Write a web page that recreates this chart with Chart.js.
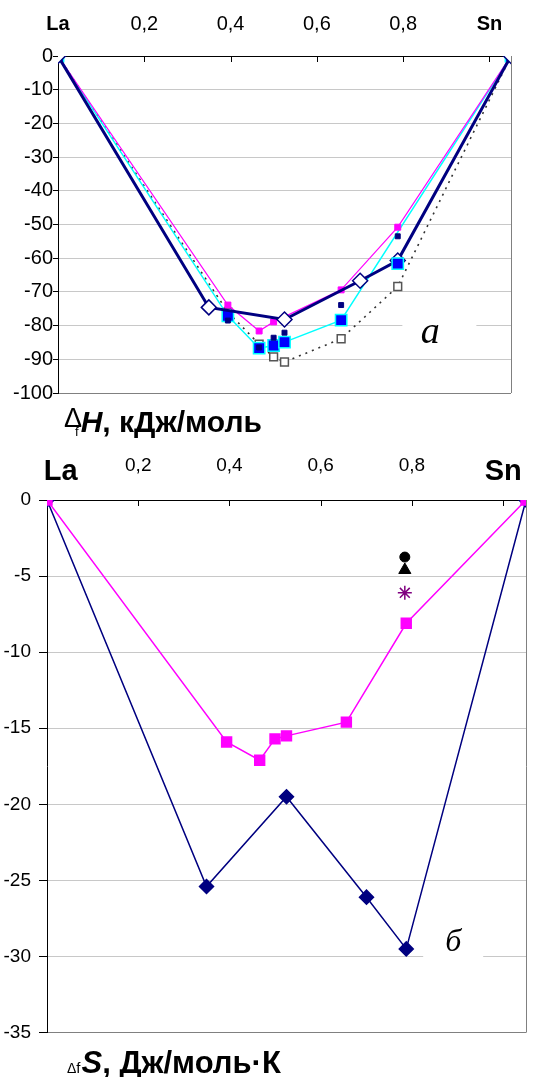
<!DOCTYPE html>
<html>
<head>
<meta charset="utf-8">
<title>La–Sn</title>
<script src="https://cdn.jsdelivr.net/npm/chart.js@4.4.0/dist/chart.umd.min.js"></script>
<style>
    html, body { margin: 0; padding: 0; background: #fff; }
    body { width: 545px; height: 1077px; position: relative; overflow: hidden;
           font-family: Arial, "Liberation Sans", sans-serif; color: #000; }
    .box { position: absolute; left: 0; width: 545px; }
    #enthalpyBox { top: 0; height: 405px; }
    #entropyBox { top: 430px; height: 622px; }
    .title { position: absolute; font-weight: bold; white-space: nowrap; line-height: 1; }
    #hTitle { left: 64px; top: 407px; font-size: 30px; }
    #sTitle { left: 67px; top: 1047px; font-size: 31px; }
    .dl { font-weight: normal; }
    #hTitle .dl { font-size: 27px; position: relative; top: -5px; }
    #hTitle .fs { font-size: 13px; font-weight: normal; margin-left: -7px; margin-right: 2px; position: relative; top: 4px; }
    #sTitle .dl { font-size: 14px; }
    #sTitle .fs { font-size: 15px; font-weight: normal; margin-right: 1px; }
</style>
</head>
<body>
<div class="box" id="enthalpyBox"><canvas id="enthalpyChart" width="545" height="405"></canvas></div>
<div class="box" id="entropyBox"><canvas id="entropyChart" width="545" height="622"></canvas></div>
<div class="title" id="hTitle"><span class="dl">Δ</span><span class="fs">f</span><i>H</i>, кДж/моль</div>
<div class="title" id="sTitle"><span class="dl">Δ</span><span class="fs">f</span><i>S</i>, Дж/моль·К</div>

<script>
// mole fraction of Sn, enthalpy of formation (kJ/mol)
const hCalcX = [0, 0.333, 0.5, 0.667, 0.75, 1];
const hCalcY = [0, -74.6, -78.2, -66.7, -60.7, 0];
const hMagentaX = [0, 0.375, 0.444, 0.476, 0.625, 0.75, 1];
const hMagentaY = [0, -73.9, -81.6, -78.9, -69.4, -50.8, 0];
const hCyanX = [0, 0.375, 0.444, 0.476, 0.5, 0.625, 1];
const hCyanY = [0, -77.1, -86.7, -85.9, -84.9, -78.4, 0];
const hBlueX = [0.75];
const hBlueY = [-61.6];
const hNavyX = [0.375, 0.444, 0.476, 0.5, 0.625, 0.75];
const hNavyY = [-78.5, -86.5, -83.6, -82.1, -73.9, -53.5];
const hDotX = [0, 0.375, 0.444, 0.476, 0.5, 0.625, 0.75, 1];
const hDotY = [0, -76, -85.5, -89.3, -90.8, -83.9, -68.4, 0];

// entropy of formation (J/mol·K)
const sCalcX = [0, 0.333, 0.5, 0.667, 0.75, 1];
const sCalcY = [0, -25.4, -19.5, -26.1, -29.5, 0];
const sMagentaX = [0, 0.375, 0.444, 0.476, 0.5, 0.625, 0.75, 1];
const sMagentaY = [0, -15.9, -17.1, -15.7, -15.5, -14.6, -8.1, 0];
const sCircle = [0.747, -3.75];
const sTriangle = [0.747, -4.6];
const sStar = [0.747, -6.1];

// composition axis ticks
const compTicks = [0, 0.2, 0.4, 0.6, 0.8, 1];

const FONT = 'Arial, "Liberation Sans", sans-serif';

const pts = (xs, ys) => xs.map((x, i) => ({ x: x, y: ys[i] }));

// the first tick may be nudged right, so anything below 0.1 is the La end
function compLabel(v) {
    if (v < 0.1) return 'La';
    if (Math.abs(v - 1) < 1e-9) return 'Sn';
    return (Math.round(v * 10) / 10).toFixed(1).replace('.', ',');
}

const isEdge = v => v < 0.1 || Math.abs(v - 1) < 1e-9;

// frame: right border, inner ticks on the top axis, panel letter
const framePlugin = {
    id: 'frame',
    beforeDatasetsDraw(chart, args, opts) {
        const ctx = chart.ctx;
        const a = chart.chartArea;
        const x = chart.scales.x.getPixelForValue(opts.letterX);
        const y = chart.scales.y.getPixelForValue(opts.letterY);
        ctx.save();
        ctx.fillStyle = '#fff';
        ctx.fillRect(x - opts.boxW / 2 + opts.boxDx, y - opts.boxH / 2, opts.boxW, opts.boxH);
        ctx.strokeStyle = '#808080';
        ctx.lineWidth = 1;
        ctx.beginPath();
        ctx.moveTo(a.right + 0.5, a.top);
        ctx.lineTo(a.right + 0.5, a.bottom);
        ctx.stroke();
        ctx.strokeStyle = '#000';
        ctx.beginPath();
        chart.scales.x2.ticks.forEach(t => {
            if (t.value < 0.1) return;
            const px = Math.round(chart.scales.x2.getPixelForValue(t.value)) + 0.5;
            ctx.moveTo(px, a.top);
            ctx.lineTo(px, a.top + opts.tickLen);
        });
        ctx.stroke();
        ctx.restore();
    },
    afterDatasetsDraw(chart, args, opts) {
        const ctx = chart.ctx;
        const x = chart.scales.x.getPixelForValue(opts.letterX);
        const y = chart.scales.y.getPixelForValue(opts.letterY);
        ctx.save();
        ctx.fillStyle = '#000';
        ctx.font = 'italic ' + opts.letterSize + 'px "Liberation Serif", "DejaVu Serif", serif';
        ctx.textAlign = 'center';
        ctx.textBaseline = 'middle';
        ctx.fillText(opts.letter, x, y);
        ctx.restore();
    }
};

function buildOptions(cfg) {
    return {
        responsive: false,
        animation: false,
        layout: { padding: cfg.padding },
        plugins: {
            legend: { display: false },
            tooltip: { enabled: false },
            frame: cfg.frame
        },
        scales: {
            x: { type: 'linear', min: 0, max: 1, display: false },
            x2: {
                type: 'linear',
                position: 'top',
                min: 0,
                max: 1.05,
                afterFit: s => { s.height = cfg.topHeight; },
                afterBuildTicks: s => {
                    s.ticks = compTicks.map(v => ({ value: v === 0 ? cfg.laShift : v }));
                },
                grid: { display: false },
                border: { display: true, color: '#000', width: 1 },
                ticks: {
                    padding: cfg.tickPad,
                    crossAlign: cfg.crossAlign,
                    color: '#000',
                    maxRotation: 0,
                    autoSkip: false,
                    callback: v => compLabel(v),
                    font: c => {
                        const edge = c.tick ? isEdge(c.tick.value) : false;
                        return edge
                            ? { family: FONT, size: cfg.edgeSize, weight: 'bold' }
                            : { family: FONT, size: cfg.tickSize, weight: 'normal' };
                    }
                }
            },
            y: {
                type: 'linear',
                min: cfg.yMin,
                max: 0,
                afterFit: s => { s.width = cfg.leftWidth; },
                border: { display: true, color: '#000', width: 1 },
                grid: {
                    color: c => c.tick.value === 0 ? '#000' : (c.tick.value === cfg.yMin ? '#808080' : '#c8c8c8'),
                    tickColor: '#000',
                    tickLength: cfg.yTickLen
                },
                ticks: {
                    stepSize: cfg.yStep,
                    padding: cfg.yPad,
                    color: '#000',
                    font: { family: FONT, size: cfg.tickSize },
                    callback: v => String(v)
                }
            }
        }
    };
}

new Chart(document.getElementById('enthalpyChart'), {
    type: 'scatter',
    data: {
        datasets: [
            {
                data: pts(hBlueX, hBlueY),
                pointStyle: 'rect', pointRadius: 8,
                backgroundColor: '#0000ff', borderColor: '#00ffff', borderWidth: 1.5,
                showLine: false
            },
            {
                data: pts(hNavyX, hNavyY),
                pointStyle: 'rect', pointRadius: 3.5,
                backgroundColor: '#000080', borderColor: '#000080', borderWidth: 1,
                showLine: false
            },
            {
                data: pts(hCalcX, hCalcY),
                showLine: true,
                borderColor: '#000080', borderWidth: 3,
                pointStyle: 'rectRot', pointRadius: 7.5,
                pointBackgroundColor: '#fff', pointBorderColor: '#000080', pointBorderWidth: 1.5
            },
            {
                data: pts(hMagentaX, hMagentaY),
                showLine: true,
                borderColor: '#ff00ff', borderWidth: 1.2,
                pointStyle: 'rect', pointRadius: 4.2,
                pointBackgroundColor: '#ff00ff', pointBorderColor: '#ff00ff', pointBorderWidth: 1
            },
            {
                data: pts(hCyanX, hCyanY),
                showLine: true,
                borderColor: '#00ffff', borderWidth: 1.5,
                pointStyle: 'rect', pointRadius: 8,
                pointBackgroundColor: '#0000ff', pointBorderColor: '#00ffff', pointBorderWidth: 1.5
            },
            {
                data: pts(hDotX, hDotY),
                showLine: true,
                borderColor: '#333', borderWidth: 1.6, borderDash: [2, 5],
                pointStyle: 'rect', pointRadius: 5.5,
                pointBackgroundColor: '#fff', pointBorderColor: '#555', pointBorderWidth: 1.5
            }
        ]
    },
    options: buildOptions({
        padding: { left: 0, right: 34, top: 0, bottom: 8 },
        topHeight: 56, leftWidth: 58, laShift: 0,
        tickPad: 12, crossAlign: 'near', tickSize: 20, edgeSize: 20,
        yMin: -100, yStep: 10, yTickLen: 5, yPad: 0,
        frame: { letter: 'а', letterX: 0.822, letterY: -82.2, letterSize: 38,
                 boxW: 74, boxH: 36, boxDx: 9, tickLen: 6 }
    }),
    plugins: [framePlugin]
});

new Chart(document.getElementById('entropyChart'), {
    type: 'scatter',
    data: {
        datasets: [
            {
                data: [{ x: sCircle[0], y: sCircle[1] }],
                pointStyle: 'circle', pointRadius: 5,
                backgroundColor: '#000', borderColor: '#000'
            },
            {
                data: [{ x: sTriangle[0], y: sTriangle[1] }],
                pointStyle: 'triangle', pointRadius: 7,
                backgroundColor: '#000', borderColor: '#000'
            },
            {
                data: [{ x: sStar[0], y: sStar[1] }],
                pointStyle: 'star', pointRadius: 7,
                backgroundColor: '#800080', borderColor: '#800080', borderWidth: 1.5
            },
            {
                data: pts(sMagentaX, sMagentaY),
                showLine: true,
                borderColor: '#ff00ff', borderWidth: 1.5,
                pointStyle: 'rect', pointRadius: 7,
                pointBackgroundColor: '#ff00ff', pointBorderColor: '#ff00ff'
            },
            {
                data: pts(sCalcX, sCalcY),
                showLine: true,
                borderColor: '#000080', borderWidth: 1.5,
                pointStyle: 'rectRot', pointRadius: 7,
                pointBackgroundColor: '#000080', pointBorderColor: '#000080'
            }
        ]
    },
    options: buildOptions({
        padding: { left: 0, right: 19, top: 0, bottom: 8 },
        topHeight: 70, leftWidth: 47, laShift: 0.03,
        tickPad: 3, crossAlign: 'far', tickSize: 19, edgeSize: 29,
        yMin: -35, yStep: 5, yTickLen: 8, yPad: 8,
        frame: { letter: 'б', letterX: 0.848, letterY: -29.1, letterSize: 32,
                 boxW: 60, boxH: 36, boxDx: 0, tickLen: 6 }
    }),
    plugins: [framePlugin]
});
</script>
</body>
</html>
